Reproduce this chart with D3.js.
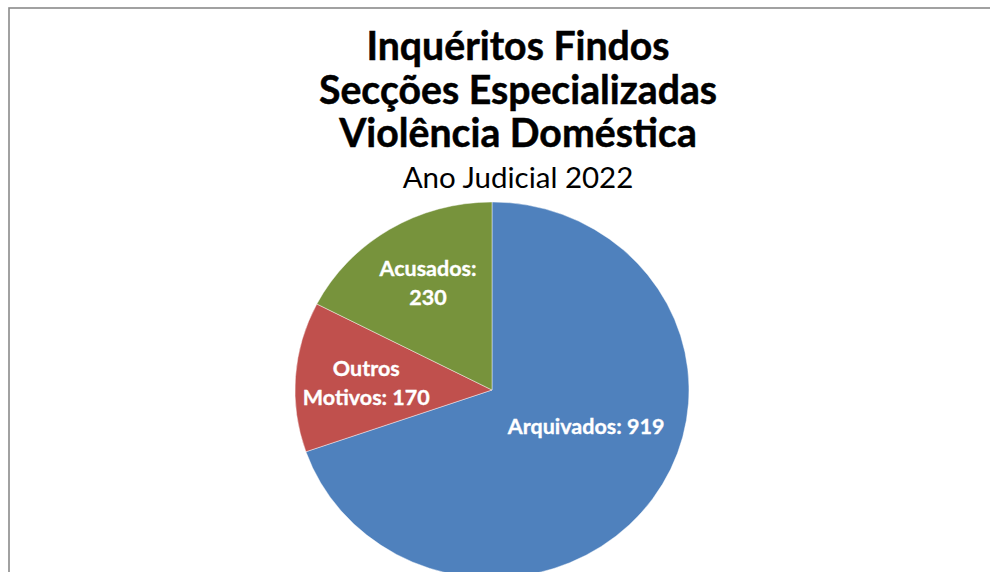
<!DOCTYPE html>
<html>
<head>
<meta charset="utf-8">
<script src="https://cdn.jsdelivr.net/npm/d3@7"></script>
<style>
  html, body { margin: 0; padding: 0; background: #fff; }
  svg { display: block; }
</style>
</head>
<body>
<svg id="chart" width="990" height="572"></svg>
<script>
// Inquéritos findos – secções especializadas de violência doméstica
const categories = ["Arquivados", "Outros Motivos", "Acusados"];
const values = [919, 170, 230];
const colors = ["#4F81BD", "#C0504D", "#77933C"];
// Label lines shown inside each slice
const labelLines = [
  ["Arquivados: 919"],
  ["Outros", "Motivos: 170"],
  ["Acusados:", "230"]
];
const titleLines = ["Inquéritos Findos", "Secções Especializadas", "Violência Doméstica"];
const subtitle = "Ano Judicial 2022";

// Layout
const W = 990, H = 572;
const cx = 492, cy = 390;
const r = 197;          // horizontal radius
const ky = 188 / 197;   // slight vertical squash of the plot
const titleX = 518;
const labelRadius = 118;
const labelNudge = [[-2, -29], [-8, 1], [-2.5, -11]];
const labelLineH = 28.5;
const labelCap = 15;

const svg = d3.select("#chart");

// Chart frame
svg.append("rect")
  .attr("x", 9).attr("y", 8)
  .attr("width", W + 20).attr("height", H + 20)
  .attr("fill", "none")
  .attr("stroke", "#8a8a8a")
  .attr("stroke-width", 1.6);

// Title
const title = svg.append("g")
  .attr("font-family", "Lato, 'Open Sans', sans-serif")
  .attr("text-anchor", "middle")
  .attr("fill", "#000");

const titleBase = d3.scaleLinear().domain([0, 1]).range([60, 103.5]);
title.selectAll("text.t")
  .data(titleLines)
  .join("text")
  .attr("class", "t")
  .attr("x", titleX)
  .attr("y", (d, i) => titleBase(i))
  .attr("font-size", 39.2)
  .attr("font-weight", 700)
  .attr("stroke", "#000")
  .attr("stroke-width", 0.5)
  .text(d => d);

title.append("text")
  .attr("x", titleX)
  .attr("y", 188)
  .attr("font-size", 29.5)
  .attr("font-weight", 400)
  .text(subtitle);

// Pie
const pie = d3.pie().sort(null).value(d => d)(values);
const arc = d3.arc().innerRadius(0).outerRadius(r);
const labelArc = d3.arc().innerRadius(labelRadius).outerRadius(labelRadius);

const gPie = svg.append("g")
  .attr("transform", `translate(${cx},${cy}) scale(1,${ky})`);

gPie.selectAll("path")
  .data(pie)
  .join("path")
  .attr("d", arc)
  .attr("fill", (d, i) => colors[i])
  .attr("stroke", "rgba(255,255,255,0.55)")
  .attr("stroke-width", 0.8)
  .attr("vector-effect", "non-scaling-stroke");

// Slice labels
const gLab = svg.append("g")
  .attr("font-family", "Lato, 'Open Sans', sans-serif")
  .attr("font-weight", 700)
  .attr("font-size", 21.5)
  .attr("fill", "#fff")
  .attr("stroke", "#fff")
  .attr("stroke-width", 0.35)
  .attr("text-anchor", "middle");

pie.forEach((d, i) => {
  const [lx, ly] = labelArc.centroid(d);
  const x = cx + lx + labelNudge[i][0];
  const y = cy + ly * ky + labelNudge[i][1];
  const lines = labelLines[i];
  const n = lines.length;
  const t = gLab.append("text").attr("aria-label", categories[i]);
  lines.forEach((line, j) => {
    t.append("tspan")
      .attr("x", x)
      .attr("y", y + (j - (n - 1) / 2) * labelLineH + labelCap / 2)
      .text(line);
  });
});
</script>
</body>
</html>
